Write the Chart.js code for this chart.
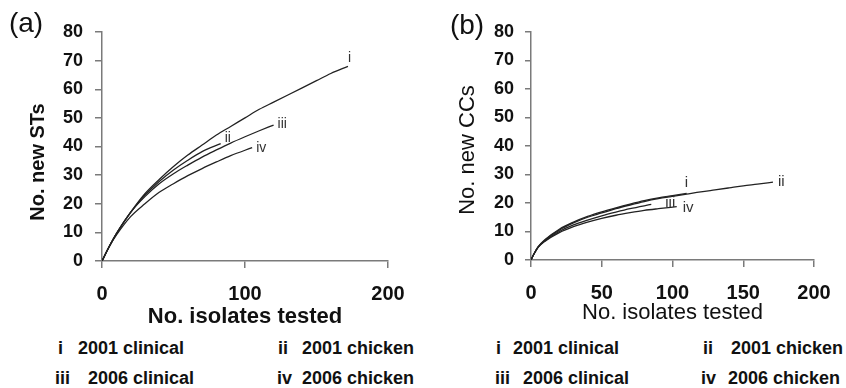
<!DOCTYPE html>
<html>
<head>
<meta charset="utf-8">
<script src="https://cdn.jsdelivr.net/npm/chart.js@4.4.1/dist/chart.umd.min.js"></script>
<style>
  body { margin: 0; background: #fff; }
  #wrap { position: relative; width: 846px; height: 388px; overflow: hidden; font-family: "Liberation Sans", Arial, sans-serif; }
  .panel { position: absolute; top: 0; width: 423px; height: 335px; }
  .key { position: absolute; font-size: 18px; font-weight: bold; color: #111; line-height: 1; white-space: nowrap; transform: translateY(-50%); }
</style>
</head>
<body>
<div id="wrap">
  <div class="panel" style="left:0"><canvas id="chartA" width="423" height="335"></canvas></div>
  <div class="panel" style="left:423px"><canvas id="chartB" width="423" height="335"></canvas></div>
</div>
<script>
// ── Data ──────────────────────────────────────────────────────────
const keyNumerals = ['i', 'ii', 'iii', 'iv'];
const keyLabels   = ['2001 clinical', '2001 chicken', '2006 clinical', '2006 chicken'];

const yTicks  = [0, 10, 20, 30, 40, 50, 60, 70, 80];
const xTicksA = [0, 100, 200];
const xTicksB = [0, 50, 100, 150, 200];

// (a) new STs
const stX_i   = [0, 5, 10, 20, 30, 40, 50, 60, 70, 80, 90, 100, 110, 120, 130, 140, 150, 160, 172];
const stY_i   = [0, 5, 9.5, 17, 23.5, 28.5, 33, 37, 40.5, 44, 47, 50, 53, 55.5, 58, 60.5, 63, 65.5, 68];
const stX_ii  = [0, 5, 10, 20, 30, 40, 50, 60, 70, 83];
const stY_ii  = [0, 5, 9.5, 17, 23, 27.8, 31.8, 35.2, 38.2, 41];
const stX_iii = [0, 5, 10, 20, 30, 40, 50, 60, 70, 80, 90, 100, 110, 120];
const stY_iii = [0, 5, 9.5, 17, 22.5, 27, 30.5, 33.5, 36.3, 38.8, 41.2, 43.4, 45.5, 47.5];
const stX_iv  = [0, 5, 10, 20, 30, 40, 50, 60, 70, 80, 90, 105];
const stY_iv  = [0, 5, 9, 15.5, 20, 24, 27, 29.8, 32.3, 34.6, 36.8, 39.6];

// (b) new CCs
const ccX_i   = [0, 2, 5, 10, 20, 30, 40, 50, 60, 70, 80, 90, 100, 110];
const ccY_i   = [0, 2, 4.6, 7.2, 10.8, 13.3, 15.3, 16.9, 18.3, 19.6, 20.8, 21.8, 22.6, 23.4];
const ccX_ii  = [0, 2, 5, 10, 20, 30, 40, 50, 60, 70, 80, 90, 100, 110, 120, 130, 140, 150, 160, 171];
const ccY_ii  = [0, 2, 4.5, 7, 10.5, 13, 15, 16.5, 18, 19.3, 20.5, 21.5, 22.3, 23.1, 23.9, 24.6, 25.3, 26, 26.6, 27.3];
const ccX_iii = [0, 2, 5, 10, 20, 30, 40, 50, 60, 70, 85];
const ccY_iii = [0, 2, 4.5, 6.8, 10, 12.3, 14, 15.5, 16.8, 18, 19.5];
const ccX_iv  = [0, 2, 5, 10, 20, 30, 40, 50, 60, 70, 80, 90, 103];
const ccY_iv  = [0, 2, 4.4, 6.6, 9.6, 11.7, 13.3, 14.6, 15.7, 16.6, 17.4, 18, 18.7];

// ── Styles ────────────────────────────────────────────────────────
const FONT = '"Liberation Sans", Arial, sans-serif';
const INK  = '#111';
const AXIS = '#7a7a7a';
const LINE = '#222';

const pts = (xs, ys) => xs.map((x, i) => ({ x, y: ys[i] }));

// label next to the last point of each curve
const endLabels = {
  id: 'endLabels',
  afterDatasetsDraw(chart, args, opts) {
    const { ctx } = chart;
    ctx.save();
    ctx.fillStyle = '#333';
    ctx.font = `${opts.size}px ${FONT}`;
    ctx.textAlign = 'left';
    ctx.textBaseline = 'middle';
    chart.data.datasets.forEach((ds, i) => {
      const meta = chart.getDatasetMeta(i);
      const last = meta.data[meta.data.length - 1];
      if (!last || !ds.endLabel) return;
      ctx.fillText(ds.endLabel.text, last.x + ds.endLabel.dx, last.y + ds.endLabel.dy);
    });
    ctx.restore();
  }
};

// panel letter + rotated y title
const panelText = {
  id: 'panelText',
  afterDraw(chart, args, o) {
    const { ctx } = chart;
    ctx.save();
    ctx.fillStyle = INK;
    ctx.textAlign = 'center';
    ctx.textBaseline = 'middle';
    ctx.font = `28px ${FONT}`;
    ctx.fillText(o.letter, o.letterX, o.letterY);
    ctx.translate(o.titleX, o.titleY);
    ctx.rotate(-Math.PI / 2);
    ctx.font = o.titleFont;
    ctx.fillText(o.title, 0, 0);
    ctx.restore();
  }
};

function renderPanel(canvasId, series, cfg) {
  const datasets = series.map(s => ({
    data: pts(s.xs, s.ys),
    endLabel: s.label,
    borderColor: LINE,
    borderWidth: 1.3,
    pointRadius: 0,
    fill: false,
    showLine: true,
    cubicInterpolationMode: 'monotone',
  }));

  return new Chart(document.getElementById(canvasId), {
    type: 'scatter',
    data: { datasets },
    plugins: [endLabels, panelText],
    options: {
      responsive: false,
      animation: false,
      layout: { padding: cfg.padding },
      plugins: {
        legend: { display: false },
        tooltip: { enabled: false },
        endLabels: { size: cfg.labelSize },
        panelText: cfg.text,
      },
      scales: {
        x: {
          type: 'linear', min: 0, max: 200,
          afterBuildTicks: ax => { ax.ticks = cfg.xTicks.map(v => ({ value: v })); },
          afterFit: ax => { ax.height = cfg.xAxisH; },
          grid: { drawOnChartArea: false, drawTicks: true, tickLength: 7, color: AXIS, lineWidth: 1.5 },
          border: { display: true, color: AXIS, width: 1.5 },
          ticks: {
            color: INK, padding: cfg.xTickPad, maxRotation: 0, autoSkip: false,
            font: { family: FONT, size: cfg.xTickSize, weight: 'bold' },
          },
          title: {
            display: true, text: 'No. isolates tested', color: INK,
            font: { family: FONT, size: 22, weight: cfg.xTitleWeight },
            padding: { top: 0, bottom: cfg.xTitlePad },
          },
        },
        y: {
          type: 'linear', min: 0, max: 80,
          afterBuildTicks: ax => { ax.ticks = yTicks.map(v => ({ value: v })); },
          afterFit: ax => { ax.width = cfg.yAxisW; },
          grid: { drawOnChartArea: false, drawTicks: true, tickLength: cfg.yTickLen, color: AXIS, lineWidth: 1.5 },
          border: { display: true, color: AXIS, width: 1.5 },
          ticks: {
            color: INK, padding: cfg.yTickPad,
            font: { family: FONT, size: cfg.yTickSize, weight: 'bold' },
          },
        },
      },
    },
  });
}

// ── (a) STs ───────────────────────────────────────────────────────
renderPanel('chartA', [
  { xs: stX_i,   ys: stY_i,   label: { text: keyNumerals[0], dx: 0, dy: -8 } },
  { xs: stX_ii,  ys: stY_ii,  label: { text: keyNumerals[1], dx: 4, dy: -5 } },
  { xs: stX_iii, ys: stY_iii, label: { text: keyNumerals[2], dx: 4, dy: -1 } },
  { xs: stX_iv,  ys: stY_iv,  label: { text: keyNumerals[3], dx: 4, dy: 0 } },
], {
  padding: { left: 0, right: 35, top: 32, bottom: 0 },
  yAxisW: 102, xAxisH: 74,
  xTicks: xTicksA, xTickSize: 20, xTickPad: 14,
  xTitleWeight: 'bold', xTitlePad: 5,
  yTickSize: 18, yTickPad: 12, yTickLen: 7,
  labelSize: 14,
  text: { letter: '(a)', letterX: 26, letterY: 24, title: 'No. new STs', titleX: 38, titleY: 162, titleFont: `bold 20px ${FONT}` },
});

// ── (b) CCs ───────────────────────────────────────────────────────
renderPanel('chartB', [
  { xs: ccX_i,   ys: ccY_i,   label: { text: keyNumerals[0], dx: -2, dy: -10 } },
  { xs: ccX_ii,  ys: ccY_ii,  label: { text: keyNumerals[1], dx: 5, dy: 0 } },
  { xs: ccX_iii, ys: ccY_iii, label: { text: keyNumerals[2], dx: 14, dy: -2 } },
  { xs: ccX_iv,  ys: ccY_iv,  label: { text: keyNumerals[3], dx: 6, dy: 1 } },
], {
  padding: { left: 0, right: 32, top: 32, bottom: 0 },
  yAxisW: 108, xAxisH: 75,
  xTicks: xTicksB, xTickSize: 20, xTickPad: 14,
  xTitleWeight: 'normal', xTitlePad: 9,
  yTickSize: 18, yTickPad: 11, yTickLen: 6,
  labelSize: 15,
  text: { letter: '(b)', letterX: 44, letterY: 26, title: 'No. new CCs', titleX: 45, titleY: 150, titleFont: `22px ${FONT}` },
});

// ── Key under each panel ──────────────────────────────────────────
const keyRowsY = [348, 348, 378, 378];
const keyPos = [
  { num: [58, 278, 55, 277],   txt: [78, 302, 88, 302] },
  { num: [496, 703, 495, 701], txt: [513, 731, 523, 728] },
];
const wrap = document.getElementById('wrap');
keyPos.forEach(p => {
  keyLabels.forEach((label, i) => {
    const n = document.createElement('div');
    n.className = 'key';
    n.style.left = p.num[i] + 'px';
    n.style.top = keyRowsY[i] + 'px';
    n.textContent = keyNumerals[i];
    wrap.appendChild(n);
    const t = document.createElement('div');
    t.className = 'key';
    t.style.left = p.txt[i] + 'px';
    t.style.top = keyRowsY[i] + 'px';
    t.textContent = label;
    wrap.appendChild(t);
  });
});
</script>
</body>
</html>
